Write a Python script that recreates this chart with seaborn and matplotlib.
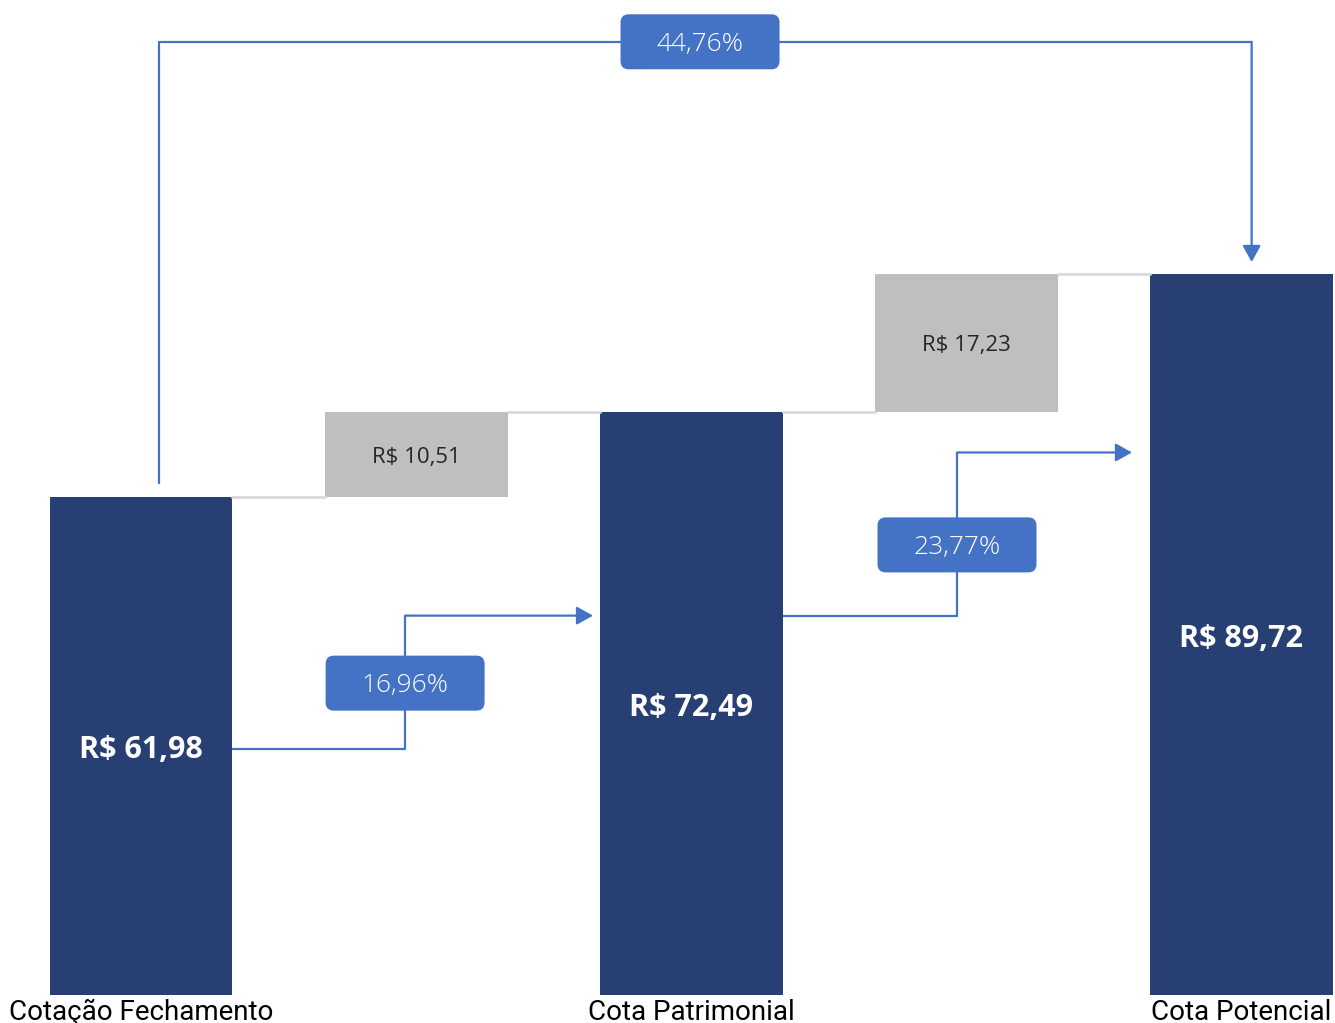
import numpy as np
import pandas as pd
import seaborn as sns
import matplotlib.pyplot as plt
from matplotlib.patches import FancyBboxPatch

# ---- data ----
steps = ["Cotação Fechamento", "Δ1", "Cota Patrimonial", "Δ2", "Cota Potencial"]
tick_labels = ["Cotação Fechamento", "", "Cota Patrimonial", "", "Cota Potencial"]
values = [61.98, 10.51, 72.49, 17.23, 89.72]
is_total = [True, False, True, False, True]
value_labels = ["R$ 61,98", "R$ 10,51", "R$ 72,49", "R$ 17,23", "R$ 89,72"]
pct_labels = ["16,96%", "23,77%", "44,76%"]

NAVY = "#283F73"
GRAY = "#BFBFBF"
BLUE = "#4472C4"
LINE = "#D9D9D9"

# waterfall bases / tops
bases, tops = [], []
running = 0.0
for v, tot in zip(values, is_total):
    if tot:
        bases.append(0.0)
        tops.append(v)
        running = v
    else:
        bases.append(running)
        tops.append(running + v)
        running += v

df = pd.DataFrame({"step": steps, "top": tops, "base": bases})
colors = [NAVY if t else GRAY for t in is_total]

sns.set_theme(style="white")
fig = plt.figure(figsize=(13.35, 10.23), dpi=100)
ax = fig.add_axes([0, 0.0274, 1, 0.9726])

W = 0.665
sns.barplot(data=df, x="step", y="top", hue="step", palette=colors, legend=False,
            width=W, ax=ax, linewidth=0, saturation=1)
sns.barplot(data=df, x="step", y="base", color="white", width=W + 0.01, ax=ax,
            linewidth=0, saturation=1)

ax.set_xlim(-0.5125, 4.34)
ax.set_ylim(0, 123.8)

# connectors between consecutive bars
for i in range(len(steps) - 1):
    ax.plot([i + W / 2, i + 1 - W / 2], [tops[i], tops[i]], color=LINE, lw=2, zorder=1)

# value labels
for i, (lab, tot) in enumerate(zip(value_labels, is_total)):
    y = (bases[i] + tops[i]) / 2
    if tot:
        ax.annotate(lab, (i, y), xytext=(0, -3), textcoords="offset points",
                    ha="center", va="center", color="white", fontsize=22,
                    fontweight="bold", family="Open Sans", zorder=5)
    else:
        ax.annotate(lab, (i, y), xytext=(0, -2), textcoords="offset points",
                    ha="center", va="center", color="#262626", fontsize=16,
                    family="Open Sans", zorder=5)

# percentage arrows (layout of elbows)
arrows = [
    dict(path=[(0 + W / 2, 30.6), (0.96, 30.6), (0.96, 47.2), (1.643, 47.2)], box=(0.96, 38.8)),
    dict(path=[(2 + W / 2, 47.2), (2.966, 47.2), (2.966, 67.5), (3.602, 67.5)], box=(2.966, 56.0)),
    dict(path=[(0.065, 63.6), (0.065, 118.6), (4.037, 118.6), (4.037, 91.2)], box=(2.032, 118.6)),
]
bw = 159 / 275.1
bh = 55 / 8.035
aspect = (1 / 8.035) / (1 / 275.1)
for arr, lab in zip(arrows, pct_labels):
    xs = [p[0] for p in arr["path"]]
    ys = [p[1] for p in arr["path"]]
    ax.plot(xs[:-1], ys[:-1], color=BLUE, lw=1.6, zorder=3, solid_capstyle="butt")
    ax.annotate("", xy=arr["path"][-1], xytext=arr["path"][-2],
                arrowprops=dict(arrowstyle="-|>,head_length=0.9,head_width=0.5",
                                color=BLUE, lw=1.6, shrinkA=0, shrinkB=0,
                                mutation_scale=11), zorder=3)
    cx, cy = arr["box"]
    box = FancyBboxPatch((cx - bw / 2, cy - bh / 2), bw, bh,
                         boxstyle="round,pad=0,rounding_size=0.03",
                         mutation_aspect=aspect, facecolor=BLUE, edgecolor="none", zorder=4)
    ax.add_patch(box)
    ax.annotate(lab, (cx, cy), xytext=(0, -2), textcoords="offset points",
                ha="center", va="center", color="white", fontsize=19,
                family="Open Sans", fontweight="light", zorder=5)

ax.set_xticks(range(len(steps)))
ax.set_xticklabels(tick_labels, fontsize=20, family="Roboto", color="black")
ax.tick_params(axis="x", length=0, pad=3)
ax.set_yticks([])
ax.set_xlabel("")
ax.set_ylabel("")
for s in ax.spines.values():
    s.set_visible(False)

fig.savefig("out.png", dpi=100)
